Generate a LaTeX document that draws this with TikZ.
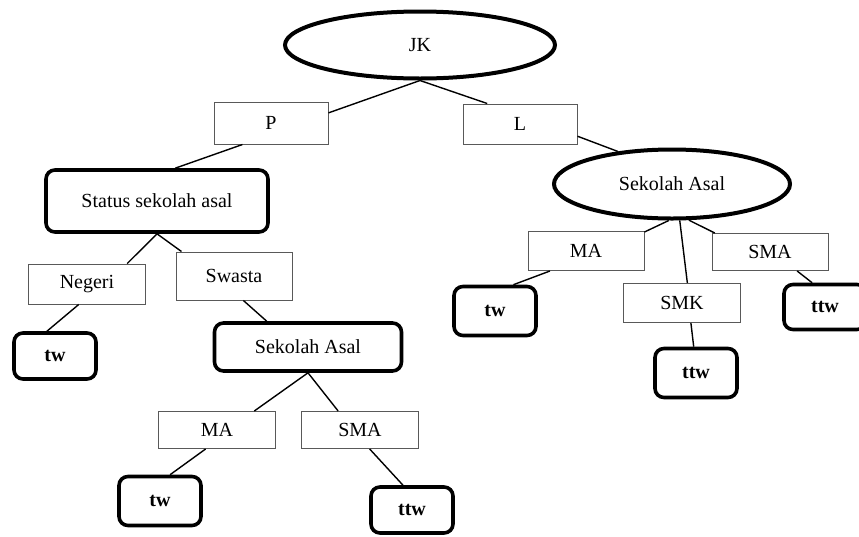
\documentclass[tikz,border=0pt]{standalone}
\usepackage{fontspec}
\setmainfont{Liberation Serif}
\usetikzlibrary{shapes.geometric}
\begin{document}
\begin{tikzpicture}[x=1pt,y=-1pt,
  every node/.style={font=\fontsize{20}{24}\selectfont, inner sep=0pt},
  thinbox/.style={draw=black!65, line width=1pt, rectangle, minimum width=116pt, minimum height=39pt},
  thickbox/.style={draw=black, line width=3.6pt, rectangle, rounded corners=9pt},
  leafbox/.style={thickbox, minimum width=82pt, minimum height=49pt, font=\fontsize{20}{24}\selectfont\bfseries},
  ellnode/.style={draw=black, line width=4pt, ellipse},
  conn/.style={draw=black, line width=1.4pt}]
\useasboundingbox (0,0) rectangle (859,536);
\clip (0,0) rectangle (859,536);
% nodes
\node[ellnode, minimum width=270pt, minimum height=67pt] (jk) at (420,45) {JK};
\node[thinbox, minimum width=114pt, minimum height=42pt] (p) at (271,123) {P};
\node[thinbox, minimum width=114pt, minimum height=40pt] (l) at (520,124) {L};
\node[thickbox, minimum width=222pt, minimum height=62pt] (status) at (157,201) {Status sekolah asal};
\node[thinbox, minimum width=117pt, minimum height=40pt] (negeri) at (87,284) {Negeri};
\node[thinbox, minimum width=116pt, minimum height=48pt] (swasta) at (234,276) {Swasta};
\node[leafbox, minimum height=46pt] (twa) at (55,356) {tw};
\node[thickbox, minimum width=187pt, minimum height=48pt] (sal) at (308,347) {Sekolah Asal};
\node[thinbox, minimum width=117pt, minimum height=37pt] (maa) at (217,430) {MA};
\node[thinbox, minimum width=117pt, minimum height=37pt] (smaa) at (360,430) {SMA};
\node[leafbox] (twb) at (160,501) {tw};
\node[leafbox, minimum height=46pt] (ttwb) at (412,510) {ttw};
\node[ellnode, minimum width=236pt, minimum height=69pt] (sar) at (672,184) {Sekolah Asal};
\node[thinbox, minimum width=116pt, minimum height=39pt] (mab) at (586,251) {MA};
\node[thinbox, minimum width=116pt, minimum height=37pt] (smab) at (770,252) {SMA};
\node[thinbox, minimum width=117pt, minimum height=39pt] (smk) at (682,303) {SMK};
\node[leafbox] (twc) at (495,311) {tw};
\node[leafbox] (ttwc) at (696,373) {ttw};
\node[leafbox, minimum width=82pt, minimum height=45pt] (ttwd) at (825,307) {ttw};
% connectors
\draw[conn] (jk.south) -- (p.10);
\draw[conn] (jk.south) -- (l.148);
\draw[conn] (p.217) -- (status.61);
\draw[conn] (l.-12) -- (sar.149);
\draw[conn] (status.south) -- (negeri.27);
\draw[conn] (status.south) -- (swasta.155);
\draw[conn] (negeri.248) -- (twa.108);
\draw[conn] (swasta.-69) -- (sal.148);
\draw[conn] (sal.south) -- (maa.27);
\draw[conn] (sal.south) -- (smaa.139);
\draw[conn] (maa.-121) -- (twb.69);
\draw[conn] (smaa.-63) -- (ttwb.110);
\draw[conn] (sar.-95) -- (mab.18);
\draw[conn] (sar.-78) -- (smk.75);
\draw[conn] (sar.-65) -- (smab.161);
\draw[conn] (mab.-151) -- (twc.55);
\draw[conn] (smk.-66) -- (ttwc.95);
\draw[conn] (smab.-35) -- (ttwd.118);
\end{tikzpicture}
\end{document}
